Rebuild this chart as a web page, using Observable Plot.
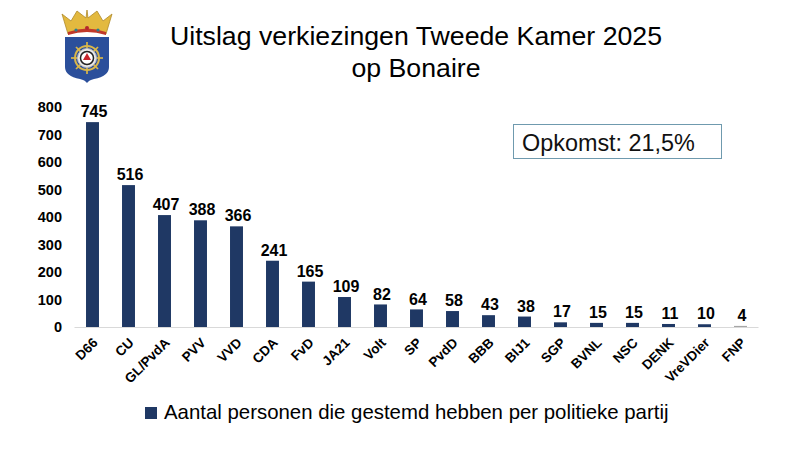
<!DOCTYPE html>
<html lang="nl">
<head>
<meta charset="utf-8">
<script src="https://cdn.jsdelivr.net/npm/d3@7"></script>
<script src="https://cdn.jsdelivr.net/npm/@observablehq/plot@0.6"></script>
<style>
html,body{margin:0;padding:0;background:#fff;font-family:"Liberation Sans",Arial,sans-serif;color:#000}
#stage{position:relative;width:800px;height:450px;overflow:hidden}
#chart{position:absolute;left:0;top:90px}
#chart svg{display:block}
#title{position:absolute;left:116px;width:600px;top:20px;text-align:center;font-size:26.7px;line-height:32px;margin:0;font-weight:normal}
#box{position:absolute;z-index:2;left:513px;top:124px;width:207px;height:33px;border:1.3px solid #6f9aae;font-size:23.4px;line-height:36px;text-indent:8px;color:#111;background:#fff}
#legend{position:absolute;left:145px;top:399px;font-size:20.4px;line-height:26px;white-space:nowrap}
#legend i{display:inline-block;width:12px;height:12px;background:#1f3864;margin-right:7px}
#crest{position:absolute;left:60px;top:8px}
</style>
</head>
<body>
<div id="stage">
<svg id="crest" width="54" height="78" viewBox="0 0 54 78">
  <path d="M2 6 L11 13 L17 3 L26 10 L27 2 L28 10 L37 3 L43 13 L52 6 L46 26 Q27 19 8 26 Z" fill="#e3b93f" stroke="#b08a2a" stroke-width=".8"/>
  <path d="M8 24 Q27 17 46 24 L46 27 Q27 21 8 27 Z" fill="#c0392b"/>
  <circle cx="27" cy="20" r="2" fill="#b5272d"/><circle cx="16" cy="22" r="1.6" fill="#2a7f8f"/><circle cx="38" cy="22" r="1.6" fill="#2a7f8f"/>
  <path d="M5 29 H49 V59 Q49 68 34 71 Q29 72 27 75 Q25 72 20 71 Q5 68 5 59 Z" fill="#2b4f9b"/>
  <g stroke="#d9b64a" stroke-width="1.7">
    <line x1="27" y1="34" x2="27" y2="66"/><line x1="11" y1="50" x2="43" y2="50"/>
    <line x1="16" y1="39" x2="38" y2="61"/><line x1="38" y1="39" x2="16" y2="61"/>
  </g>
  <circle cx="27" cy="50" r="12" fill="none" stroke="#d9b64a" stroke-width="2"/>
  <circle cx="27" cy="50" r="9.5" fill="#e9e9e9" stroke="#bbb"/>
  <circle cx="27" cy="50" r="6.5" fill="#fff" stroke="#222" stroke-width="1.5"/>
  <path d="M27 45 L31 52 H23 Z" fill="#c8242b"/>
</svg>
<h1 id="title">Uitslag verkiezingen Tweede Kamer 2025<br>op Bonaire</h1>
<div id="chart"></div>
<div id="box">Opkomst: 21,5%</div>
<div id="legend"><i></i>Aantal personen die gestemd hebben per politieke partij</div>
</div>
<script>
const parties = ["D66","CU","GL/PvdA","PVV","VVD","CDA","FvD","JA21","Volt","SP","PvdD","BBB","BIJ1","SGP","BVNL","NSC","DENK","VreVDier","FNP"];
const votes = [745,516,407,388,366,241,165,109,82,64,58,43,38,17,15,15,11,10,4];
const barColor = "#1f3864";
const fnpColor = "#a6a6a6";
const yTicks = [0,100,200,300,400,500,600,700,800];
const rows = parties.map((party,i)=>({party,votes:votes[i]}));

const plot = Plot.plot({
  width: 800,
  height: 300,
  marginTop: 17,
  marginBottom: 63,
  marginLeft: 74.5,
  marginRight: 41.5,
  style: {fontFamily: '"Liberation Sans",Arial,sans-serif', color:"#000", background:"transparent"},
  x: {domain: parties, paddingInner: 0.64, paddingOuter: 0.32, round: false, label: null},
  y: {domain: [0,800], label: null},
  marks: [
    Plot.barY(rows, {x:"party", y:"votes", fill:d=>d.party==="FNP"?fnpColor:barColor}),
    Plot.ruleY([0], {stroke:"#d9d9d9", strokeWidth:1.2}),
    Plot.text(rows, {x:"party", y:"votes", text:d=>String(d.votes), dx:1, dy:-10.5, fontSize:16, fontWeight:"bold", fill:"#000"}),
    Plot.axisY({ticks:yTicks, tickSize:0, tickPadding:13, fontSize:14.5, fontWeight:"bold", label:null, fill:"#000"}),
    Plot.axisX({tickSize:0, tickRotate:-45, tickPadding:12, dx:2.5, dy:1, fontSize:13.5, fontWeight:"bold", label:null, fill:"#000"})
  ]
});
document.getElementById("chart").append(plot);
</script>
</body>
</html>
